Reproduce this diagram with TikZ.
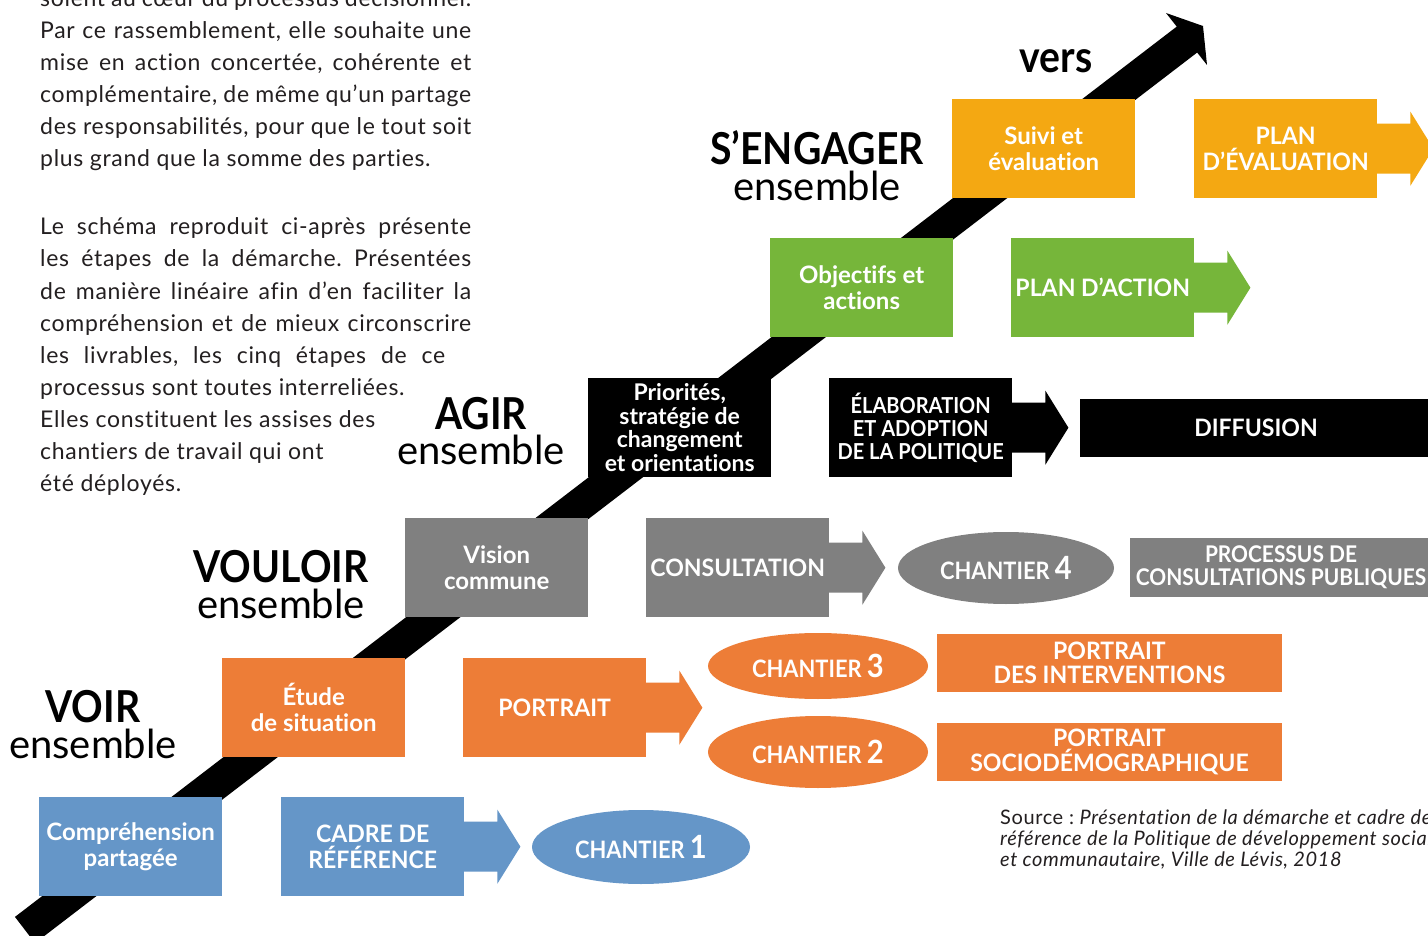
\documentclass[tikz,border=0pt]{standalone}
\usepackage{fontspec}
\setmainfont{Lato}[Ligatures=NoCommon]
\newfontfamily\bodyfont{Lato}[LetterSpace=3,Ligatures=NoCommon]
\newfontfamily\condA{Lato}[FakeStretch=0.96,Ligatures=NoCommon]
\newfontfamily\condB{Lato}[FakeStretch=0.91,Ligatures=NoCommon]
\newfontfamily\condT{Lato}[FakeStretch=0.89,Ligatures=NoCommon]
\usetikzlibrary{shapes.geometric,calc}
\definecolor{cblue}{RGB}{101,150,200}
\definecolor{corange}{RGB}{237,125,55}
\definecolor{cgray}{RGB}{128,128,128}
\definecolor{cgreen}{RGB}{118,182,58}
\definecolor{cyellow}{RGB}{244,168,18}
\definecolor{bodygray}{RGB}{35,31,32}
\newcommand\boxarrow[2]{\fill[#2] ($(#1.east)+(-1,-25)$) -- ($(#1.east)+(33,-25)$) -- ($(#1.east)+(33,-37)$) -- ($(#1.east)+(56,0)$) -- ($(#1.east)+(33,37)$) -- ($(#1.east)+(33,25)$) -- ($(#1.east)+(-1,25)$) -- cycle;}
\newcommand\bignum[1]{{\fontsize{32}{32}\selectfont #1}}
\frenchspacing
\begin{document}
\begin{tikzpicture}[x=1pt,y=-1pt,
  stagebox/.style={anchor=north west, minimum width=183pt, minimum height=99pt, inner sep=0pt, text=white, font=\bfseries\fontsize{24}{26}\selectfont, align=center},
  delbox/.style={stagebox, font=\condA\bfseries\fontsize{24}{25.5}\selectfont},
  resbox/.style={minimum height=58pt, inner sep=0pt, text=white, font=\condA\bfseries\fontsize{24}{24.5}\selectfont, align=center},
  chantier/.style={ellipse, inner sep=0pt, text=white, font=\condB\bfseries\fontsize{24}{24}\selectfont},
  bodyline/.style={anchor=base west, inner sep=0pt, text=bodygray, font=\bodyfont\fontsize{23}{23}\selectfont},
  stagebold/.style={anchor=base, inner sep=0pt, text=black, font=\condT\bfseries\fontsize{44}{44}\selectfont},
  stagereg/.style={anchor=base, inner sep=0pt, text=black, font=\fontsize{40}{40}\selectfont},
  srcline/.style={anchor=base west, inner sep=0pt, text=bodygray, font=\bodyfont\fontsize{20}{20}\selectfont}]
\useasboundingbox (0,0) rectangle (1428,936);
\clip (0,0) rectangle (1428,936);
\fill[white] (0,0) rectangle (1428,936);

% diagonal arrow
\coordinate (bandS) at (25,930);
\coordinate (bandE) at (1189,38);
\coordinate (barbL) at (1166,13);
\coordinate (barbR) at (1207,65);
\coordinate (tip) at (1203,26);
\draw[line width=33pt] (bandS) -- (bandE);
\fill (barbL) -- (tip) -- (barbR) -- cycle;

% body text
\node[bodyline] (t0) at (40,7) {\makebox[431pt][s]{soient au cœur du processus décisionnel.}};
\node[bodyline] (t1) at (40,39) {\makebox[431pt][s]{Par ce rassemblement, elle souhaite une}};
\node[bodyline] (t2) at (40,71) {\makebox[431pt][s]{mise en action concertée, cohérente et}};
\node[bodyline] (t3) at (40,103) {\makebox[431pt][s]{complémentaire, de même qu’un partage}};
\node[bodyline] (t4) at (40,135) {\makebox[431pt][s]{des responsabilités, pour que le tout soit}};
\node[bodyline] (t5) at (40,167) {plus grand que la somme des parties.};
\node[bodyline] (u1) at (40,235) {\makebox[431pt][s]{Le schéma reproduit ci-après présente}};
\node[bodyline] (u2) at (40,267) {\makebox[431pt][s]{les étapes de la démarche. Présentées}};
\node[bodyline] (u3) at (40,299) {\makebox[431pt][s]{de manière linéaire afin d’en faciliter la}};
\node[bodyline] (u4) at (40,331) {\makebox[431pt][s]{compréhension et de mieux circonscrire}};
\node[bodyline] (u5) at (40,363) {\makebox[405pt][s]{les livrables, les cinq étapes de ce}};
\node[bodyline] (u6) at (40,395) {processus sont toutes interreliées.};
\node[bodyline] (u7) at (40,427) {Elles constituent les assises des};
\node[bodyline] (u8) at (40,459) {chantiers de travail qui ont};
\node[bodyline] (u9) at (40,491) {été déployés.};

% stage labels
\node[stagebold] (voir) at (93,722) {VOIR};
\node[stagereg] (voirE) at (93,758) {ensemble};
\node[stagebold] (vouloir) at (281,582) {VOULOIR};
\node[stagereg] (vouloirE) at (281,618) {ensemble};
\node[stagebold] (agir) at (481,429) {AGIR};
\node[stagereg] (agirE) at (481,464) {ensemble};
\node[stagebold] (engager) at (817,165) {S’ENGAGER};
\node[stagereg] (engagerE) at (817,201) {ensemble};
\node[stagebold] (vers) at (1056,73) {vers};

% stage boxes
\node[stagebox, fill=cblue] (comp) at (39,797) {Compréhension\\partagée};
\node[stagebox, fill=corange] (etude) at (222,658) {Étude\\de situation};
\node[stagebox, fill=cgray] (vision) at (405,518) {Vision\\commune};
\node[stagebox, fill=black, font=\bfseries\fontsize{23}{23.5}\selectfont] (prio) at (588,378) {Priorités,\\stratégie de\\changement\\et orientations};
\node[stagebox, fill=cgreen] (obj) at (770,238) {Objectifs et\\actions};
\node[stagebox, fill=cyellow] (suivi) at (952,99) {Suivi et\\évaluation};

% deliverable boxes
\node[delbox, fill=cblue] (cadre) at (281,797) {CADRE DE\\RÉFÉRENCE};
\node[delbox, fill=corange] (portrait) at (463,658) {PORTRAIT};
\node[delbox, fill=cgray] (consult) at (646,518) {CONSULTATION};
\node[delbox, fill=black, font=\condB\bfseries\fontsize{22}{23}\selectfont] (elab) at (829,378) {ÉLABORATION\\ET ADOPTION\\DE LA POLITIQUE};
\node[delbox, fill=cgreen] (plana) at (1011,238) {PLAN D’ACTION};
\node[delbox, fill=cyellow] (plane) at (1194,99) {PLAN\\D’ÉVALUATION};

\boxarrow{cadre}{cblue}
\boxarrow{portrait}{corange}
\boxarrow{consult}{cgray}
\boxarrow{elab}{black}
\boxarrow{plana}{cgreen}
\boxarrow{plane}{cyellow}

% chantiers
\node[chantier, fill=cblue, minimum width=218pt, minimum height=74pt] (ch1) at (641,847) {CHANTIER \bignum{1}};
\node[chantier, fill=corange, minimum width=220pt, minimum height=66pt] (ch3) at (818,666) {CHANTIER \bignum{3}};
\node[chantier, fill=corange, minimum width=220pt, minimum height=72pt] (ch2) at (818,752) {CHANTIER \bignum{2}};
\node[chantier, fill=cgray, minimum width=216pt, minimum height=72pt] (ch4) at (1006,568) {CHANTIER \bignum{4}};

% results
\node[resbox, fill=cgray, minimum width=302pt, minimum height=59pt, font=\condB\bfseries\fontsize{23}{23}\selectfont] (proc) at (1281,567.5) {PROCESSUS DE\\CONSULTATIONS PUBLIQUES};
\node[resbox, fill=corange, minimum width=345pt] (pinter) at (1109.5,663) {PORTRAIT\\DES INTERVENTIONS};
\node[resbox, fill=corange, minimum width=345pt] (psocio) at (1109.5,752) {PORTRAIT\\SOCIODÉMOGRAPHIQUE};
\node[resbox, fill=black, minimum width=352pt] (diff) at (1256,428) {DIFFUSION};

% source
\node[srcline] (s1) at (1000,824) {Source : \textit{Présentation de la démarche et cadre de}};
\node[srcline] (s2) at (1000,845) {\textit{référence de la Politique de développement social}};
\node[srcline] (s3) at (1000,866) {\textit{et communautaire, Ville de Lévis, 2018}};
\end{tikzpicture}
\end{document}
